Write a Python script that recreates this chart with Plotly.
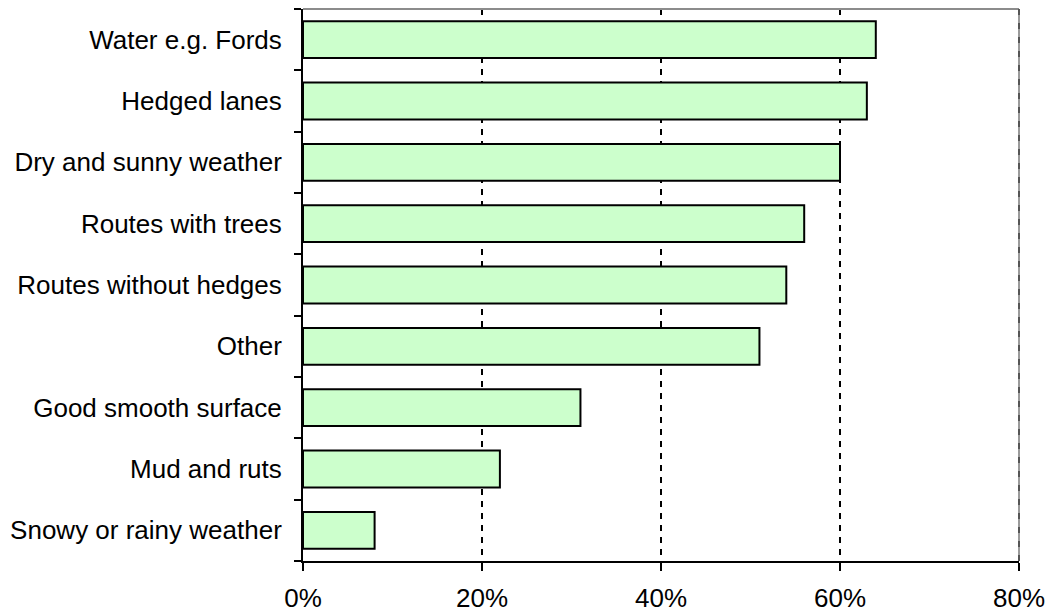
import plotly.graph_objects as go

# Survey: features of a route that respondents liked (share of respondents)
categories = [
    "Water e.g. Fords",
    "Hedged lanes",
    "Dry and sunny weather",
    "Routes with trees",
    "Routes without hedges",
    "Other",
    "Good smooth surface",
    "Mud and ruts",
    "Snowy or rainy weather",
]
shares = [0.64, 0.63, 0.60, 0.56, 0.54, 0.51, 0.31, 0.22, 0.08]
x_ticks = [0, 0.2, 0.4, 0.6, 0.8]
x_tick_labels = ["0%", "20%", "40%", "60%", "80%"]

font = dict(family="Liberation Sans, Arial, sans-serif", size=26, color="#000000")

fig = go.Figure(
    go.Bar(
        x=shares,
        y=categories,
        orientation="h",
        marker=dict(color="#CCFFCC", line=dict(color="#000000", width=2)),
        hoverinfo="skip",
    )
)

fig.update_layout(
    width=1050,
    height=612,
    margin=dict(l=303, r=31, t=9, b=51, pad=0),
    paper_bgcolor="white",
    plot_bgcolor="white",
    font=font,
    bargap=0.4,
    showlegend=False,
)

fig.update_xaxes(
    range=[0, 0.8],
    tickvals=x_ticks,
    ticktext=x_tick_labels,
    automargin=False,
    showgrid=True,
    gridcolor="#000000",
    gridwidth=2,
    griddash="6px,6px",
    zeroline=False,
    showline=True,
    linecolor="#000000",
    linewidth=2,
    ticks="outside",
    ticklen=8,
    tickwidth=2,
    tickcolor="#000000",
    ticklabelstandoff=5,
    tickfont=font,
)

fig.update_yaxes(
    categoryorder="array",
    categoryarray=categories[::-1],
    autorange=False,
    range=[-0.5, len(categories) - 0.5],
    automargin=False,
    tickson="boundaries",
    showgrid=False,
    zeroline=False,
    showline=True,
    linecolor="#000000",
    linewidth=2,
    ticks="outside",
    ticklen=7,
    tickwidth=2,
    tickcolor="#000000",
    ticklabelstandoff=14,
    tickfont=font,
)

# Gray frame on the top and right of the plot area, with a dashed 80% line
fig.add_shape(type="line", xref="x domain", yref="y domain",
              x0=0, x1=1, y0=1, y1=1, line=dict(color="#8c8c8c", width=2))
fig.add_shape(type="line", xref="x domain", yref="y domain",
              x0=1, x1=1, y0=0, y1=1, line=dict(color="#9a9a9a", width=2))
fig.add_shape(type="line", xref="x domain", yref="y domain",
              x0=1, x1=1, y0=0, y1=1, line=dict(color="#555555", width=2, dash="6px,8px"))

fig.write_html("out.html")
